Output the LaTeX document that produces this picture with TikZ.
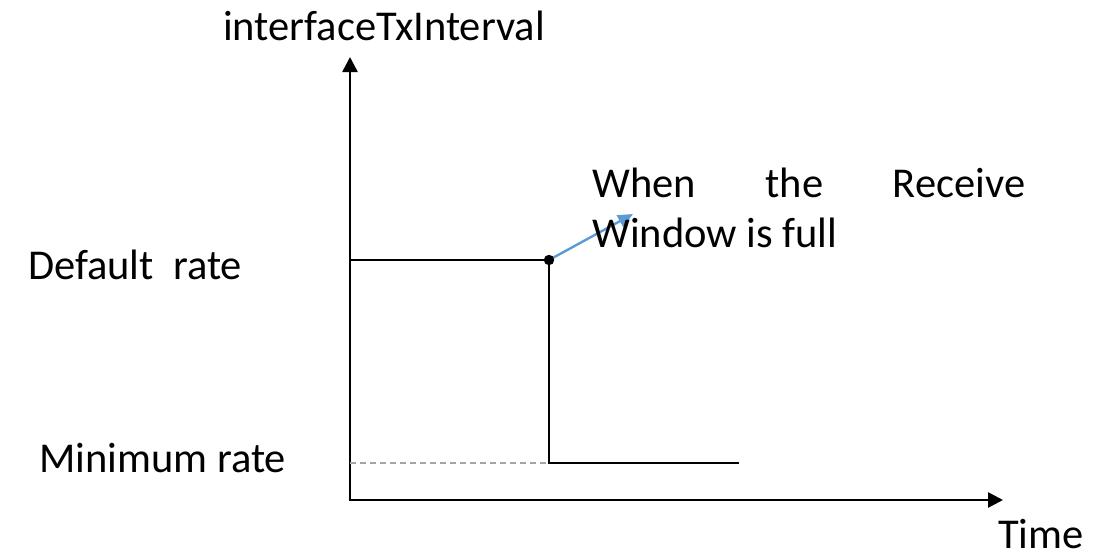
\documentclass[tikz,border=0pt]{standalone}
\usepackage{fontspec}
\setmainfont{Carlito}
\usetikzlibrary{arrows.meta}
\definecolor{pointer}{HTML}{5B9BD5}
\definecolor{guide}{HTML}{A6A6A6}
\tikzset{
  axis/.style={line width=2.6pt, -{Triangle[length=15pt,width=15pt]}},
  curve/.style={line width=1.3pt, black},
  guideline/.style={line width=1.3pt, guide, dash pattern=on 6pt off 4pt},
  label/.style={inner sep=0pt, anchor=base west, font=\fontsize{42.5}{50}\selectfont},
  pointerarrow/.style={line width=2.4pt, pointer, -{Triangle[length=15pt,width=13pt]}},
}
\begin{document}
\begin{tikzpicture}[x=1pt,y=-1pt]
  \useasboundingbox (0,0) rectangle (1102,554);

  % axes
  \coordinate (o) at (350,500);
  \coordinate (ytop) at (350,57);
  \coordinate (xend) at (1003,500);
  \draw[axis] (o) -- (ytop);
  \draw[axis] ([xshift=-1.3pt]o) -- (xend);

  % step: default rate, then drop to the minimum rate
  \coordinate (d0) at (350,260);
  \coordinate (drop) at (549,260);
  \coordinate (m0) at (350,463);
  \coordinate (low) at (549,463);
  \coordinate (mend) at (739,463);
  \draw[guideline] (m0) -- (low);
  \draw[curve] (d0) -- (drop) -- (low) -- (mend);

  % pointer to the annotation, starting from the marked point
  \coordinate (tip) at (633,214);
  \draw[pointerarrow] (drop) -- (tip);
  \fill (drop) circle (5.2pt);

  % labels
  \node[label] (ylab) at (223,40) {interfaceTxInterval};
  \node[label] (deflab) at (28,279) {Default\ \ rate};
  \node[label] (minlab) at (39,472) {Minimum rate};
  \node[label] (xlab) at (998,548) {Time};
  \node[label] (note1) at (592,197) {\makebox[433pt][s]{When the Receive}};
  \node[label] (note2) at (592,247) {Window is full};
\end{tikzpicture}
\end{document}
